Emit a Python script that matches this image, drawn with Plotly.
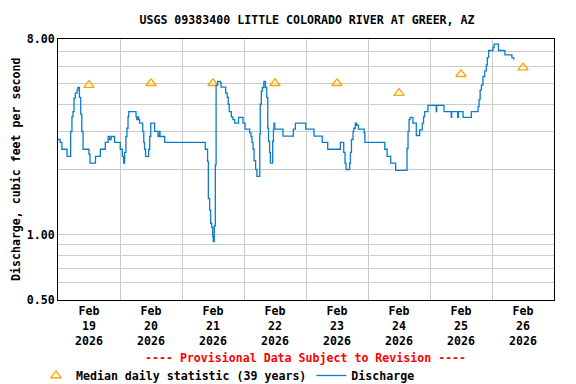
import pandas as pd
import numpy as np
import plotly.graph_objects as go

START = pd.Timestamp("2026-02-19 00:00")

# Discharge readings: hours after Feb 19 00:00 and value (cfs), step series
q_hours = [0, 0.8, 1.5, 3.5, 4.9, 5.4, 5.8, 6.2, 6.7, 7.4, 7.7, 8.3, 8.8, 9.2, 9.7,
           12.0, 12.4, 14.5, 16.4, 18.3, 19.4, 20.0, 20.6, 21.9, 24.1, 24.9, 25.4, 25.8,
           26.3, 26.7, 27.1, 27.4, 30.2, 30.5, 31.0, 31.2, 31.6, 32.8, 33.2, 33.5, 33.9,
           35.1, 35.5, 35.9, 37.4, 38.7, 39.3, 39.5, 41.3,
           57.0, 57.9, 58.2, 58.7, 59.1, 59.5, 59.9, 60.1, 60.5, 60.9, 61.2, 61.8, 62.8,
           63.1, 64.9, 65.5, 65.9, 66.3, 67.1, 67.7, 68.4, 69.9, 71.6, 72.4, 74.2, 74.7,
           75.1, 75.5, 75.9, 76.5, 77.0, 78.1, 78.3, 78.7, 79.1, 79.7, 80.3, 80.8, 81.2,
           81.5, 81.9, 82.2, 83.1, 83.4, 83.6, 83.9, 87.1, 91.1, 91.9, 95.9, 99.1, 102.3,
           104.4, 109.3, 110.6, 111.1, 111.5, 112.9, 113.2, 113.6, 114.2, 114.5, 115.1,
           115.6, 116.3, 118.5, 118.8,
           126.5, 127.4, 128.8, 130.7, 135.1, 135.5, 135.9, 136.3, 137.4, 138.7, 140.0,
           141.0, 141.5, 141.9, 143.2, 146.4, 146.6, 149.4, 152.2, 152.4, 154.7, 155.0,
           156.8, 160.0, 162.6, 163.0, 163.4, 163.9, 164.5, 165.2, 165.8, 166.2, 166.7,
           168.4, 168.8, 170.5, 173.0, 175.7, 176.4]
q_values = [2.75, 2.67, 2.48, 2.30, 3.0, 3.5, 3.7, 4.27, 4.5, 4.65, 4.78, 4.3, 3.6, 3.0, 2.48,
            2.35, 2.14, 2.30, 2.48, 2.67, 2.84, 2.75, 2.84, 2.67, 2.48, 2.30, 2.14, 2.40,
            2.84, 3.1, 3.5, 3.7, 3.5, 3.4, 3.5, 3.4, 3.27, 3.0, 2.67, 2.48, 2.30,
            2.48, 2.84, 3.27, 3.0, 2.84, 3.0, 2.84, 2.67,
            2.48, 2.18, 1.47, 1.30, 1.13, 1.08, 0.98, 0.93, 1.1, 2.1, 4.9, 5.1, 5.05,
            4.8, 4.5, 4.3, 4.0, 3.7, 3.5, 3.4, 3.27, 3.48, 3.27, 3.07, 2.95, 2.84,
            2.67, 2.48, 2.2, 2.0, 1.86, 2.9, 4.0, 4.6, 4.78, 5.1, 4.78, 4.3, 3.1,
            2.7, 2.4, 2.14, 2.7, 3.07, 3.27, 3.07, 2.85, 3.07, 3.27, 3.07, 2.85, 2.67,
            2.48, 2.67, 2.4, 2.14, 2.0, 2.14, 2.4, 2.75, 3.0, 3.1, 3.27,
            3.2, 3.07, 2.95, 2.67,
            2.48, 2.30, 2.14, 1.98, 2.5, 3.0, 3.4, 3.48, 3.27, 2.87, 3.05,
            3.27, 3.5, 3.7, 3.95, 3.7, 3.95, 3.7, 3.48, 3.7, 3.48, 3.7,
            3.48, 3.7, 3.9, 4.2, 4.65, 4.9, 5.37, 5.7, 6.08, 6.57, 7.08,
            7.31, 7.58, 7.08, 6.76, 6.57, 6.41]

# Median daily statistic (39 years), one per day at noon
median_days = ["2026-02-19", "2026-02-20", "2026-02-21", "2026-02-22",
               "2026-02-23", "2026-02-24", "2026-02-25", "2026-02-26"]
median_values = [4.9, 5.0, 5.0, 5.0, 5.0, 4.5, 5.5, 5.9]

x_tick_labels = ["Feb<br>19<br>2026", "Feb<br>20<br>2026", "Feb<br>21<br>2026", "Feb<br>22<br>2026",
                 "Feb<br>23<br>2026", "Feb<br>24<br>2026", "Feb<br>25<br>2026", "Feb<br>26<br>2026"]
y_tick_vals = [0.5, 1.0, 8.0]
y_tick_text = ["0.50", "1.00", "8.00"]
y_grid_vals = [0.6, 0.7, 0.8, 0.9, 2, 3, 4, 5, 6, 7]

FONT = "DejaVu Sans Mono"
FS = 11.6
OFF = 8                      # page body margin of the HTML page
W, H = 576 - OFF, 384 - OFF
# plot box in screen pixels: x 58..554, y 39..300
L, T = 58 - OFF, 39 - OFF
R, B = W - (554 - OFF), H - (300 - OFF)

def sx(x):  # screen x -> container fraction
    return (x - OFF) / W

def sy(y):  # screen y -> container fraction (from bottom)
    return 1 - (y - OFF) / H

q_times = [START + pd.Timedelta(hours=h) for h in q_hours]
med_times = [pd.Timestamp(d) + pd.Timedelta(hours=12) for d in median_days]
noon_ticks = med_times
midnights = [pd.Timestamp(d) for d in median_days] + [pd.Timestamp("2026-02-27")]

bold = dict(family=FONT, size=FS, color="black", weight="bold")

fig = go.Figure()
fig.add_trace(go.Scatter(
    x=med_times, y=median_values, mode="markers",
    name="Median daily statistic (39 years)",
    marker=dict(symbol="triangle-up-open", size=9, color="#ffa500",
                line=dict(width=1.3, color="#ffa500")),
))
fig.add_trace(go.Scatter(
    x=q_times, y=q_values, mode="lines", line_shape="hv",
    name="Discharge", line=dict(color="#0a7dcc", width=1.3),
))

fig.update_layout(
    width=W, height=H,
    margin=dict(l=L, r=R, t=T, b=B, autoexpand=False),
    paper_bgcolor="white", plot_bgcolor="white",
    font=bold,
    title=dict(text="USGS 09383400 LITTLE COLORADO RIVER AT GREER, AZ",
               xref="container", x=sx(307), xanchor="center",
               yref="container", y=sy(20), yanchor="middle", font=bold),
    showlegend=True,
    legend=dict(orientation="h", xref="container", x=sx(36), xanchor="left",
                yref="container", y=sy(361), yanchor="top",
                font=bold, itemwidth=30, bgcolor="rgba(0,0,0,0)"),
)

fig.update_xaxes(
    range=[midnights[0], midnights[-1]], automargin=False,
    tickmode="array", tickvals=noon_ticks, ticktext=x_tick_labels,
    showgrid=False, ticks="", showline=True, linecolor="black", linewidth=1,
    mirror=True, zeroline=False, tickfont=bold,
    minor=dict(tickmode="array", tickvals=midnights[1:-1], showgrid=True,
               gridcolor="#cccccc", gridwidth=1, ticks=""),
)
fig.update_yaxes(
    type="log", range=[np.log10(0.5) - 1e-6, np.log10(8) + 1e-6], automargin=False,
    tickmode="array", tickvals=y_tick_vals, ticktext=y_tick_text,
    showgrid=True, gridcolor="#cccccc", gridwidth=1, ticks="",
    showline=True, linecolor="black", linewidth=1, mirror=True, zeroline=False,
    tickfont=bold,
    minor=dict(tickmode="array", tickvals=y_grid_vals, showgrid=True,
               gridcolor="#cccccc", gridwidth=1, ticks=""),
)

fig.add_annotation(
    text="Discharge, cubic feet per second", textangle=-90,
    xref="paper", yref="paper", x=(16 - 58) / 496, y=(300 - 170) / 261,
    xanchor="center", yanchor="middle", showarrow=False, font=bold,
)
fig.add_annotation(
    text="---- Provisional Data Subject to Revision ----",
    xref="paper", yref="paper", x=(305 - 58) / 496, y=(300 - 358) / 261,
    xanchor="center", yanchor="middle", showarrow=False,
    font=dict(family=FONT, size=FS, color="red", weight="bold"),
)

fig.write_html("out.html")
